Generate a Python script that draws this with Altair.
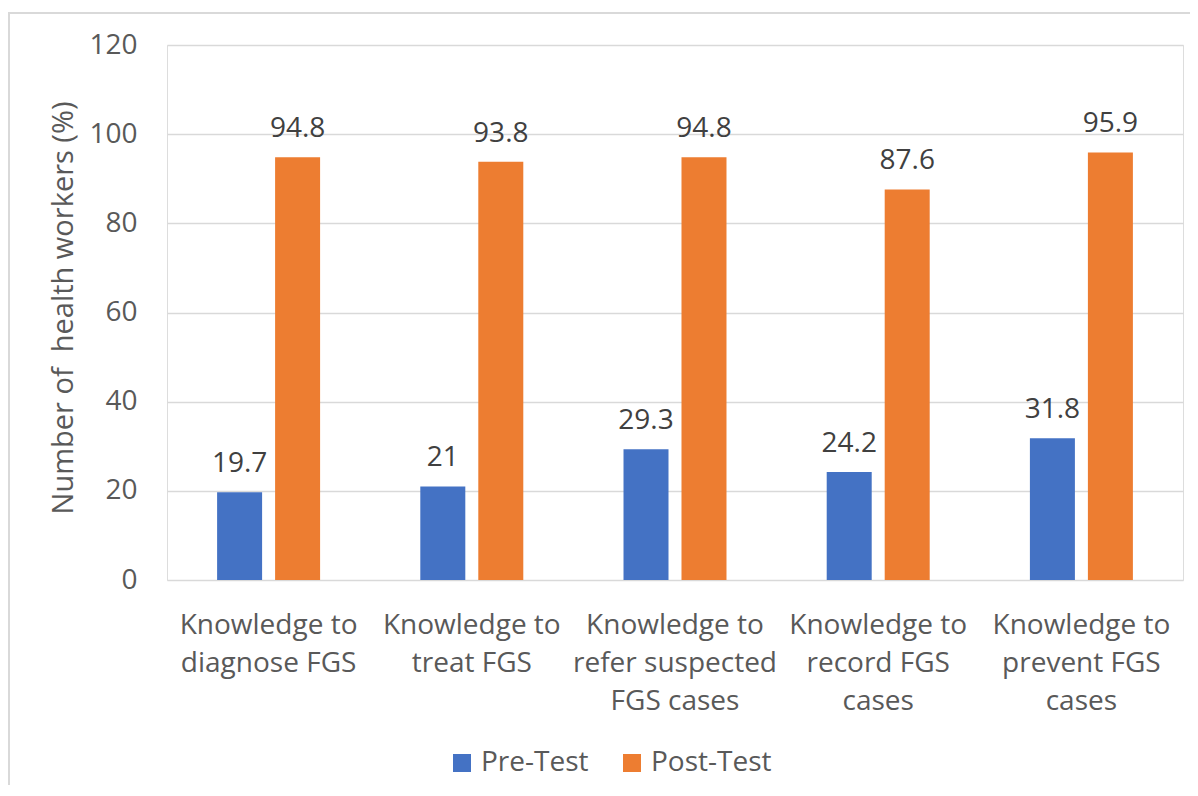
import altair as alt
import pandas as pd

categories = [
    "Knowledge to|diagnose FGS",
    "Knowledge to|treat FGS",
    "Knowledge to|refer suspected|FGS cases",
    "Knowledge to|record FGS|cases",
    "Knowledge to|prevent FGS|cases",
]
series = ["Pre-Test", "Post-Test"]
pre_test = [19.7, 21, 29.3, 24.2, 31.8]
post_test = [94.8, 93.8, 94.8, 87.6, 95.9]
y_ticks = [0, 20, 40, 60, 80, 100, 120]
colors = ["#4472C4", "#ED7D31"]

rows = []
for c, a, b in zip(categories, pre_test, post_test):
    rows.append({"cat": c, "series": series[0], "value": a, "label": f"{a:g}"})
    rows.append({"cat": c, "series": series[1], "value": b, "label": f"{b:g}"})
df = pd.DataFrame(rows)

FONT = "Open Sans"
GREY = "#595959"

x_enc = alt.X(
    "cat:N",
    sort=categories,
    scale=alt.Scale(paddingInner=0, paddingOuter=0),
    axis=alt.Axis(
        title=None,
        domain=False,
        ticks=False,
        tickSize=0,
        labelAngle=0,
        labelExpr="split(datum.label, '|')",
        labelFontSize=28,
        labelFont=FONT,
        labelColor=GREY,
        labelBaseline="alphabetic",
        labelPadding=53,
        labelLineHeight=38,
        labelLimit=0,
    ),
)
xo_enc = alt.XOffset(
    "series:N", sort=series,
    scale=alt.Scale(paddingInner=0.224, paddingOuter=0.864),
)
y_enc = alt.Y(
    "value:Q",
    scale=alt.Scale(domain=[0, 120], nice=False),
    axis=alt.Axis(
        values=y_ticks,
        grid=True,
        gridColor="#d9d9d9",
        gridWidth=1.3,
        domain=False,
        ticks=False,
        tickSize=0,
        labelPadding=30,
        labelFontSize=28,
        labelFont=FONT,
        labelColor=GREY,
        title="Number of \u00a0health workers (%)",
        titleFont=FONT,
        titleFontSize=29,
        titleFontWeight="normal",
        titleColor=GREY,
        titleAngle=-90,
        titleX=-104,
        titleY=262.5,
        titleAlign="center",
        titleBaseline="middle",
    ),
)

bars = alt.Chart(df).mark_bar().encode(
    x=x_enc,
    xOffset=xo_enc,
    y=y_enc,
    color=alt.Color(
        "series:N",
        sort=series,
        scale=alt.Scale(domain=series, range=colors),
        legend=alt.Legend(
            title=None,
            orient="none",
            legendX=281,
            legendY=704,
            direction="horizontal",
            symbolType="square",
            symbolSize=324,
            symbolStrokeWidth=0,
            labelFont=FONT,
            labelFontSize=28,
            labelColor=GREY,
            labelOffset=5,
            columnPadding=29,
        ),
    ),
)

texts = alt.Chart(df).mark_text(
    font=FONT, fontSize=28, color="#404040", baseline="alphabetic", dy=-20
).encode(
    x=alt.X("cat:N", sort=categories),
    xOffset=alt.XOffset("series:N", sort=series),
    y=alt.Y("value:Q"),
    text="label:N",
)

frame = pd.DataFrame({"k": [0]})
top_line = alt.Chart(frame).mark_rule(color="#d9d9d9", strokeWidth=2).encode(
    x=alt.value(-159), x2=alt.value(1030), y=alt.value(-32)
)
left_line = alt.Chart(frame).mark_rule(color="#d9d9d9", strokeWidth=2).encode(
    x=alt.value(-158), y=alt.value(-33), y2=alt.value(740)
)

chart = alt.layer(bars, texts, top_line, left_line).properties(
    width=1016,
    height=535,
    autosize=alt.AutoSizeParams(type="none"),
    padding={"left": 159, "top": 37, "right": 7, "bottom": 208},
).configure_view(stroke=None).configure(font=FONT)

chart.save("out.html", embed_options={"renderer": "svg", "actions": False})
